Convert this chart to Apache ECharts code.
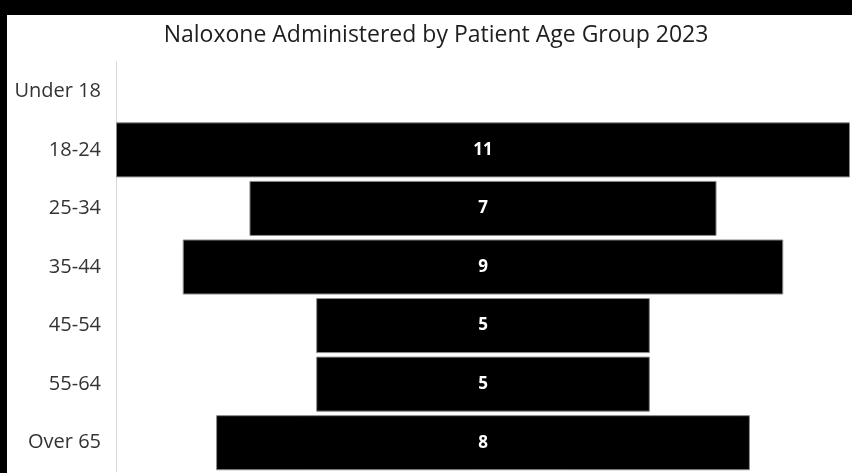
<!DOCTYPE html>
<html>
<head>
<meta charset="utf-8">
<script src="https://cdn.jsdelivr.net/npm/echarts@6/dist/echarts.min.js"></script>
<style>
html,body{margin:0;padding:0;background:#fff;}
#chart{width:852px;height:473px;}
</style>
</head>
<body>
<div id="chart"></div>
<script>
const titleText = 'Naloxone Administered by Patient Age Group 2023';
const categories = ['Under 18', '18-24', '25-34', '35-44', '45-54', '55-64', 'Over 65'];
const values = [0, 11, 7, 9, 5, 5, 8];
const maxValue = 11;

const offsets = values.map(v => (maxValue - v) / 2);
const barData = values.map(v => v === 0 ? null : v);

const chart = echarts.init(document.getElementById('chart'), null, {renderer: 'canvas'});
chart.setOption({
  backgroundColor: '#ffffff',
  animation: false,
  title: {
    text: titleText,
    left: 431,
    textAlign: 'center',
    top: 19,
    textStyle: {fontFamily: 'Open Sans', fontSize: 23, fontWeight: 'normal', color: '#1e1e1e'}
  },
  graphic: [
    {type: 'rect', left: 0, top: 0, shape: {width: 852, height: 15}, style: {fill: '#000'}, z: 100},
    {type: 'rect', left: 0, top: 0, shape: {width: 7, height: 473}, style: {fill: '#000'}, z: 100}
  ],
  grid: {left: 116, right: 2, top: 62, bottom: 1, containLabel: false},
  xAxis: {type: 'value', min: 0, max: maxValue, show: false},
  yAxis: {
    type: 'category',
    data: categories,
    inverse: true,
    axisLine: {show: true, lineStyle: {color: '#d9d9d9', width: 1}},
    axisTick: {show: false},
    axisLabel: {fontFamily: 'Open Sans', fontSize: 20, color: '#333333', margin: 15}
  },
  series: [
    {
      type: 'bar', stack: 'f', data: offsets, barCategoryGap: '6%',
      itemStyle: {color: 'transparent'}, silent: true
    },
    {
      type: 'bar', stack: 'f', data: barData, barCategoryGap: '6%',
      itemStyle: {color: '#000000', borderColor: '#8a8a8a', borderWidth: 1},
      label: {
        show: true, position: 'inside', color: '#ffffff',
        fontFamily: 'Open Sans', fontWeight: 'bold', fontSize: 17,
        formatter: p => p.value ? String(p.value) : ''
      }
    }
  ]
});
</script>
</body>
</html>
